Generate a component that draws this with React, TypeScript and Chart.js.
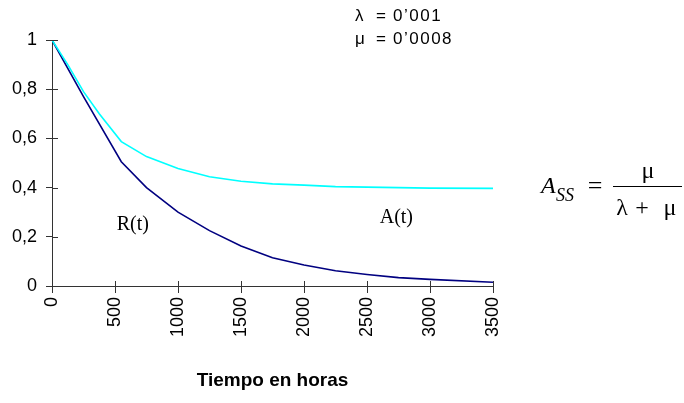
import { useEffect, useRef } from 'react';
import { Chart, registerables } from 'chart.js';

Chart.register(...registerables);

// Reliability R(t)
const R_TIMES = [0, 250, 550, 750, 1000, 1250, 1500, 1750, 2000, 2250, 2500, 2750, 3000, 3500];
const R_VALUES = [1, 0.77, 0.505, 0.4, 0.3, 0.225, 0.163, 0.115, 0.085, 0.062, 0.047, 0.034, 0.027, 0.015];

// Availability A(t)
const A_TIMES = [0, 125, 250, 375, 550, 750, 1000, 1250, 1500, 1750, 2000, 2250, 2500, 2750, 3000, 3500];
const A_VALUES = [1, 0.9, 0.79, 0.7, 0.587, 0.526, 0.478, 0.444, 0.426, 0.415, 0.41, 0.404, 0.402, 0.4, 0.398, 0.397];

const X_MIN = 0;
const X_MAX = 3500;
const X_STEP = 500;
const Y_MIN = 0;
const Y_MAX = 1;
const Y_STEP = 0.2;

const X_TITLE = 'Tiempo en horas';
const R_LABEL = 'R(t)';
const A_LABEL = 'A(t)';
const R_LABEL_AT = { t: 641, v: 0.248 };
const A_LABEL_AT = { t: 2733, v: 0.276 };
const PARAM_LAMBDA = '0’001';
const PARAM_MU = '0’0008';

const AXIS_COLOR = '#333333';

export default function App() {
  const ref = useRef<HTMLCanvasElement>(null);

  useEffect(() => {
    if (!ref.current) return;

    const annotPlugin = {
      id: 'annot',
      afterDraw(chart: any) {
        const ctx: CanvasRenderingContext2D = chart.ctx;
        const xs = chart.scales.x;
        const ys = chart.scales.y;
        const area = chart.chartArea;
        ctx.save();

        // inner halves of the tick marks (ticks cross the axes)
        ctx.strokeStyle = AXIS_COLOR;
        ctx.lineWidth = 1;
        ctx.beginPath();
        for (const tk of ys.ticks) {
          const y = Math.round(ys.getPixelForValue(tk.value)) + 0.5;
          ctx.moveTo(area.left, y);
          ctx.lineTo(area.left + 6, y);
        }
        for (const tk of xs.ticks) {
          const x = Math.round(xs.getPixelForValue(tk.value)) + 0.5;
          ctx.moveTo(x, area.bottom);
          ctx.lineTo(x, area.bottom - 5);
        }
        ctx.stroke();

        ctx.fillStyle = '#000';
        // curve labels
        ctx.font = '20px "Liberation Serif", "Times New Roman", serif';
        ctx.textAlign = 'center';
        ctx.textBaseline = 'middle';
        ctx.fillText(R_LABEL, xs.getPixelForValue(R_LABEL_AT.t), ys.getPixelForValue(R_LABEL_AT.v));
        ctx.fillText(A_LABEL, xs.getPixelForValue(A_LABEL_AT.t), ys.getPixelForValue(A_LABEL_AT.v));

        // parameters
        ctx.textBaseline = 'alphabetic';
        ctx.font = '17px "Liberation Sans", Arial, sans-serif';
        ctx.textAlign = 'left';
        (ctx as any).letterSpacing = '0px';
        ctx.fillText('λ', 355, 21);
        ctx.fillText('μ', 355, 44);
        ctx.textAlign = 'center';
        ctx.fillText('=', 381, 21);
        ctx.fillText('=', 381, 44);
        ctx.textAlign = 'left';
        (ctx as any).letterSpacing = '1.5px';
        ctx.fillText(PARAM_LAMBDA, 393, 21);
        ctx.fillText(PARAM_MU, 393, 44);
        (ctx as any).letterSpacing = '0px';

        // steady-state availability formula
        ctx.textAlign = 'left';
        ctx.font = 'italic 24px "Liberation Serif", "Times New Roman", serif';
        ctx.fillText('A', 541, 193);
        ctx.font = 'italic 18px "Liberation Serif", "Times New Roman", serif';
        ctx.fillText('SS', 556, 201);
        ctx.textAlign = 'center';
        ctx.font = '26px "Liberation Serif", "Times New Roman", serif';
        ctx.fillText('=', 595, 194);
        ctx.beginPath();
        ctx.moveTo(613, 186.5);
        ctx.lineTo(682, 186.5);
        ctx.strokeStyle = '#000';
        ctx.stroke();
        ctx.font = '24px "Liberation Serif", "Times New Roman", serif';
        ctx.fillText('μ', 648, 178);
        ctx.fillText('λ', 622, 215);
        ctx.fillText('+', 642, 215);
        ctx.fillText('μ', 670, 215);

        ctx.restore();
      },
    };

    const chart = new Chart(ref.current, {
      type: 'line',
      data: {
        datasets: [
          {
            label: 'A(t)',
            data: A_TIMES.map((t, i) => ({ x: t, y: A_VALUES[i] })),
            borderColor: '#00FFFF',
            borderWidth: 1.6,
            pointRadius: 0,
            tension: 0,
            fill: false,
          },
          {
            label: 'R(t)',
            data: R_TIMES.map((t, i) => ({ x: t, y: R_VALUES[i] })),
            borderColor: '#000080',
            borderWidth: 1.6,
            pointRadius: 0,
            tension: 0,
            fill: false,
          },
        ],
      },
      options: {
        animation: false,
        responsive: false,
        devicePixelRatio: 1,
        layout: { padding: { left: 0, right: 191, top: 40, bottom: 0 } },
        plugins: {
          legend: { display: false },
          tooltip: { enabled: false },
          title: { display: false },
        },
        scales: {
          x: {
            type: 'linear',
            min: X_MIN,
            max: X_MAX,
            afterFit: (s: any) => {
              s.height = 117;
            },
            ticks: {
              stepSize: X_STEP,
              minRotation: 90,
              maxRotation: 90,
              padding: 4,
              color: '#000',
              font: { family: '"Liberation Sans", Arial, sans-serif', size: 18 },
              callback: (v: any) => String(v),
            },
            grid: { drawOnChartArea: false, drawTicks: true, tickLength: 7, color: AXIS_COLOR },
            border: { display: true, color: AXIS_COLOR, width: 1 },
            title: {
              display: true,
              text: X_TITLE,
              color: '#000',
              font: { family: '"Liberation Sans", Arial, sans-serif', size: 19, weight: 'bold' },
              padding: { top: 0, bottom: 11 },
            },
          },
          y: {
            type: 'linear',
            min: Y_MIN,
            max: Y_MAX,
            afterFit: (s: any) => {
              s.width = 52;
            },
            ticks: {
              stepSize: Y_STEP,
              padding: 9,
              color: '#000',
              font: { family: '"Liberation Sans", Arial, sans-serif', size: 18 },
              callback: (v: any) => String(Math.round(Number(v) * 10) / 10).replace('.', ','),
            },
            grid: { drawOnChartArea: false, drawTicks: true, tickLength: 6, color: AXIS_COLOR },
            border: { display: true, color: AXIS_COLOR, width: 1 },
          },
        },
      },
      plugins: [annotPlugin],
    } as any);

    return () => chart.destroy();
  }, []);

  return (
    <div style={{ position: 'fixed', left: 0, top: 0, width: 684, height: 403, background: '#fff' }}>
      <canvas ref={ref} width={684} height={403} style={{ display: 'block', width: 684, height: 403 }} />
    </div>
  );
}
